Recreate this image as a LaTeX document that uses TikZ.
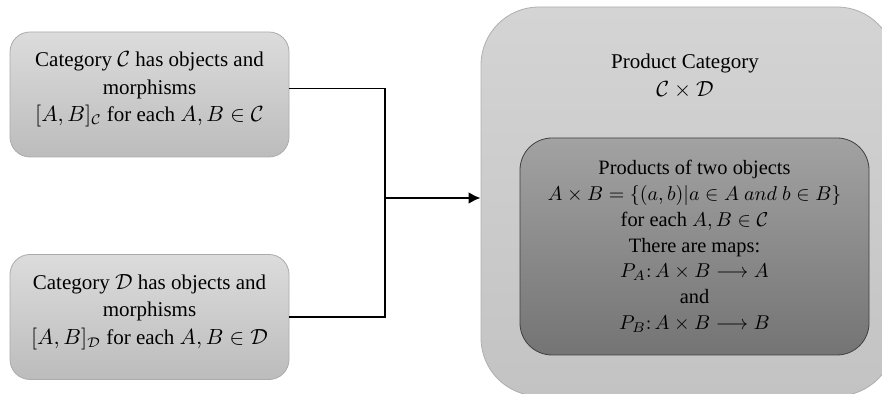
\documentclass[tikz,border=0pt]{standalone}
\usepackage{fontspec}
\setmainfont{Liberation Serif}
\usepackage{tikz}
\usetikzlibrary{arrows.meta, positioning, calc}

\definecolor{catTop}{HTML}{DCDCDC}
\definecolor{catBot}{HTML}{BCBCBC}
\definecolor{catRim}{HTML}{ABABAB}
\definecolor{prodTop}{HTML}{D4D4D4}
\definecolor{prodBot}{HTML}{C3C3C3}
\definecolor{pairTop}{HTML}{A2A2A2}
\definecolor{pairBot}{HTML}{747474}

\begin{document}
\begin{tikzpicture}
  [x=0.5pt, y=-0.5pt,
    font=\fontsize{10.5}{13.7}\selectfont,
    block/.style ={
        rectangle,
        draw=catRim,
        top color=catTop, bottom color=catBot,
        rounded corners=10pt,
        align=center,
        minimum width=139.5pt,
        minimum height=62.5pt,
      },
    outer/.style ={
        rectangle,
        draw=prodBot!90!black,
        top color=prodTop, bottom color=prodBot,
        rounded corners=29pt,
        minimum width=207pt,
        minimum height=194.5pt,
      },
    inner/.style ={
        rectangle,
        draw=black!75,
        top color=pairTop, bottom color=pairBot,
        rounded corners=16pt,
        align=center,
        minimum width=174.5pt,
        minimum height=108.5pt,
        font=\fontsize{10.2}{12.9}\selectfont,
      },
  ]
  \useasboundingbox (0,0) rectangle (882,394);

  % the two input categories
  \node[block] (catC) at (149.5,94.5) {Category $\mathcal{C}$ has objects and\\morphisms\\$[A,B]_{\mathcal{C}}$ for each $A,B\in\mathcal{C}$\\[-6pt]};
  \node[block] (catD) at (149.5,317) {Category $\mathcal{D}$ has objects and\\morphisms\\$[A,B]_{\mathcal{D}}$ for each $A,B\in\mathcal{D}$\\[-6pt]};

  % product category with its products
  \node[outer] (prod) at (688,201.5) {};
  \node[align=center] (title) at (685,76) {Product Category\\$\mathcal{C}\times\mathcal{D}$};
  \node[inner] (pairs) at (694.5,246.5) {Products of two objects\\
    $A\times B=\{(a,b)|a\in A\ and\ b\in B\}$\\
    for each $A,B\in\mathcal{C}$\\
    There are maps:\\
    $P_A\colon A\times B\longrightarrow A$\\
    and\\
    $P_B\colon A\times B\longrightarrow B$};

  \coordinate (join) at (385,198);
  \draw[line width=0.75pt] ([yshift=3pt]catC.east) -| (join) |- (catD.east);
  \draw[line width=1.3pt, -{Latex[length=6pt, width=6pt]}] (join) -- (join -| prod.west);
\end{tikzpicture}
\end{document}
